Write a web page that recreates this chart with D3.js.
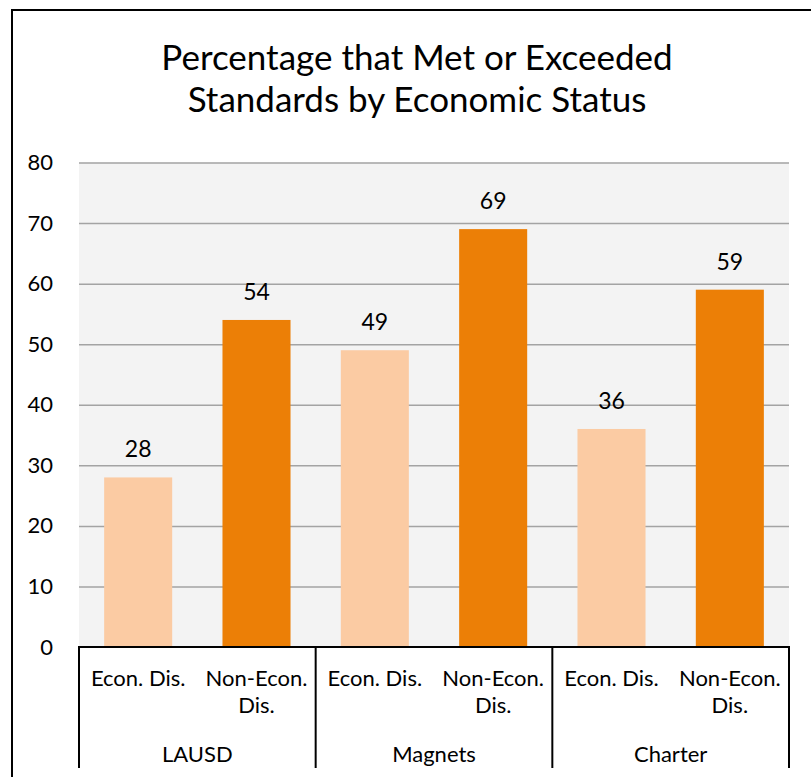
<!DOCTYPE html>
<html>
<head>
<meta charset="utf-8">
<script src="https://cdn.jsdelivr.net/npm/d3@7"></script>
<style>
  html, body { margin: 0; padding: 0; background: #ffffff; }
  svg { display: block; }
  text { font-family: Lato, "Open Sans", sans-serif; fill: #000; }
</style>
</head>
<body>
<svg id="chart" width="811" height="777"></svg>
<script>
// Chart data
const titleLines = ["Percentage that Met or Exceeded", "Standards by Economic Status"];
const groups = ["LAUSD", "Magnets", "Charter"];
const statuses = ["Econ. Dis.", "Non-Econ. Dis."];
const statusLabelLines = [["Econ. Dis."], ["Non-Econ.", "Dis."]];
const econDisValues = [28, 49, 36];
const nonEconDisValues = [54, 69, 59];
const yTicks = [0, 10, 20, 30, 40, 50, 60, 70, 80];
const statusColors = ["#fbcba3", "#ec7f06"];

const seriesValues = [econDisValues, nonEconDisValues];
const rows = [];
groups.forEach((g, gi) => {
  statuses.forEach((s, si) => {
    rows.push({ group: g, status: s, si: si, value: seriesValues[si][gi] });
  });
});

const svg = d3.select("#chart");
const plot = { left: 79, right: 789, top: 162.5, bottom: 647 };

// Outer frame (top and left edges visible)
svg.append("line").attr("x1", 11).attr("x2", 811).attr("y1", 10).attr("y2", 10)
  .attr("stroke", "#000").attr("stroke-width", 2);
svg.append("line").attr("x1", 12).attr("x2", 12).attr("y1", 9).attr("y2", 777)
  .attr("stroke", "#000").attr("stroke-width", 2);

// Title: two centred lines
svg.append("g").selectAll("text").data(titleLines).join("text")
  .attr("x", 417).attr("y", (d, i) => 69.5 + i * 42.5)
  .attr("text-anchor", "middle")
  .style("font-size", "35px")
  .text(d => d);

// Scales
const y = d3.scaleLinear().domain([0, 80]).range([plot.bottom, plot.top]);
const x0 = d3.scaleBand().domain(groups).range([plot.left, plot.right]).padding(0);
const x1 = d3.scaleBand().domain(statuses).range([0, x0.bandwidth()])
  .paddingInner(0.425).paddingOuter(0.2125);

// Plot background
svg.append("rect")
  .attr("x", plot.left).attr("y", plot.top)
  .attr("width", plot.right - plot.left).attr("height", plot.bottom - plot.top)
  .attr("fill", "#f3f3f3");

// Gridlines and y tick labels via axis
const yAxis = d3.axisLeft(y).tickValues(yTicks).tickSize(-(plot.right - plot.left)).tickPadding(26);
const gy = svg.append("g").attr("transform", `translate(${plot.left},0)`).call(yAxis);
gy.select(".domain").remove();
gy.selectAll(".tick line")
  .attr("stroke", d => d === 0 ? "none" : "#a3a3a3")
  .attr("stroke-width", 1.5);
gy.selectAll(".tick text")
  .style("font-family", "Lato, sans-serif")
  .style("font-size", "22px")
  .attr("fill", "#000");

// Bars
svg.append("g").selectAll("rect").data(rows).join("rect")
  .attr("x", d => x0(d.group) + x1(d.status))
  .attr("y", d => y(d.value))
  .attr("width", x1.bandwidth())
  .attr("height", d => y(0) - y(d.value))
  .attr("fill", d => statusColors[d.si]);

// Value labels
svg.append("g").selectAll("text").data(rows).join("text")
  .attr("x", d => x0(d.group) + x1(d.status) + x1.bandwidth() / 2)
  .attr("y", d => y(d.value) - 20)
  .attr("text-anchor", "middle")
  .style("font-size", "23px")
  .text(d => d.value);

// Category axis: baseline and group separators
svg.append("line")
  .attr("x1", plot.left - 1).attr("x2", plot.right + 1)
  .attr("y1", y(0)).attr("y2", y(0))
  .attr("stroke", "#000").attr("stroke-width", 2);

const sepX = groups.map(g => x0(g)).concat([plot.right]);
svg.append("g").selectAll("line").data(sepX).join("line")
  .attr("x1", d => d).attr("x2", d => d)
  .attr("y1", y(0)).attr("y2", 768)
  .attr("stroke", "#000").attr("stroke-width", 2);

// Status labels (possibly two lines)
const statusG = svg.append("g");
rows.forEach(d => {
  const cx = x0(d.group) + x1(d.status) + x1.bandwidth() / 2;
  statusG.append("text")
    .attr("x", cx).attr("y", 686)
    .attr("text-anchor", "middle")
    .style("font-size", "22px")
    .selectAll("tspan").data(statusLabelLines[d.si]).join("tspan")
    .attr("x", cx).attr("dy", (t, i) => i === 0 ? 0 : 27)
    .text(t => t);
});

// Group labels
svg.append("g").selectAll("text").data(groups).join("text")
  .attr("x", g => x0(g) + x0.bandwidth() / 2)
  .attr("y", 762)
  .attr("text-anchor", "middle")
  .style("font-size", "22px")
  .text(g => g);
</script>
</body>
</html>
